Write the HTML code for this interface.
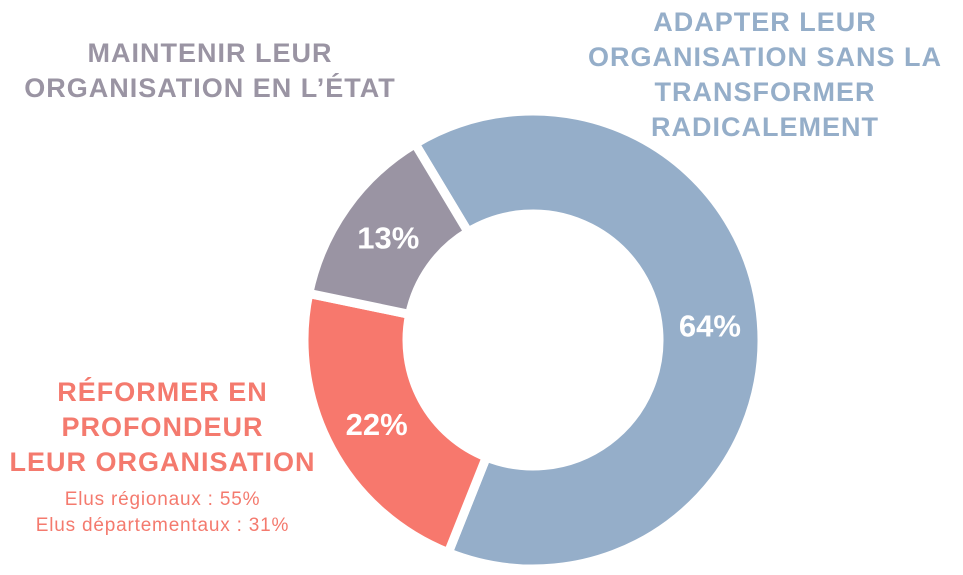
<!DOCTYPE html>
<html><head><meta charset="utf-8">
<style>
body{margin:0;background:#fff;width:963px;height:575px;overflow:hidden;font-family:"Liberation Sans",sans-serif;}
.lbl{position:absolute;text-align:center;font-weight:bold;font-size:27px;line-height:35px;letter-spacing:1px;}
</style></head><body>
<div class="lbl" style="left:0;top:36px;width:420px;color:#9a94a3">MAINTENIR LEUR<br>ORGANISATION EN L’ÉTAT</div>
<div class="lbl" style="left:555px;top:5px;width:420px;color:#95aec9">ADAPTER LEUR<br>ORGANISATION SANS LA<br>TRANSFORMER<br>RADICALEMENT</div>
<div class="lbl" style="left:0;top:375px;width:325px;color:#f47a6e">RÉFORMER EN<br>PROFONDEUR<br>LEUR ORGANISATION</div>
<div style="position:absolute;left:0;top:487px;width:325px;text-align:center;color:#f47a6e;font-size:19px;line-height:26px;letter-spacing:0.8px">Elus régionaux : 55%<br>Elus départementaux : 31%</div>
<svg id="c" width="963" height="575" style="position:absolute;left:0;top:0"></svg>
<script>
const categories=["Adapter","Réformer","Maintenir"];
const values=[64,22,13];
const colors=["#95aec9","#f7786d","#9a94a3"];
const labels=["64%","22%","13%"];
const cx=533,cy=340,R=229,r=126,start=-31;
const svg=document.getElementById('c');
const ns="http://www.w3.org/2000/svg";
const total=values.reduce((a,b)=>a+b,0);
function pt(a,rad){const t=a*Math.PI/180;return [cx+rad*Math.sin(t),cy-rad*Math.cos(t)];}
let a=start;
values.forEach((v,i)=>{
  const sw=v/total*360,a2=a+sw,lg=sw>180?1:0;
  const p1=pt(a,R),p2=pt(a2,R),p3=pt(a2,r),p4=pt(a,r);
  const p=document.createElementNS(ns,'path');
  p.setAttribute('d',`M${p1}A${R},${R} 0 ${lg} 1 ${p2}L${p3}A${r},${r} 0 ${lg} 0 ${p4}Z`);
  p.setAttribute('fill',colors[i]);p.setAttribute('stroke','#fff');p.setAttribute('stroke-width','9');
  
  
  svg.appendChild(p);
  const m=pt(a+sw/2,(R+r)/2);
  const t=document.createElementNS(ns,'text');
  t.setAttribute('x',m[0]);t.setAttribute('y',m[1]+11);
  t.setAttribute('text-anchor','middle');t.setAttribute('fill','#fff');
  t.setAttribute('font-size','31');t.setAttribute('font-weight','bold');
  t.setAttribute('font-family','Liberation Sans, sans-serif');
  t.textContent=labels[i];
  
  
  svg.appendChild(t);
  a=a2;
});
</script>
</body></html>
